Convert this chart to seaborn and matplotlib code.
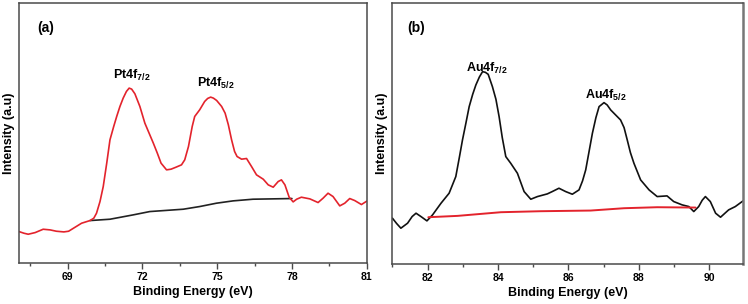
import numpy as np
import pandas as pd
import seaborn as sns
import matplotlib
matplotlib.use("Agg")
from matplotlib import pyplot as plt
from matplotlib.ticker import MultipleLocator

# Pt 4f spectrum (panel a), intensity in arbitrary units
pt_energy = [67.05, 67.25, 67.42, 67.70, 68.02, 68.30, 68.55, 68.85, 69.04, 69.30,
             69.56, 69.90, 70.05, 70.16, 70.30, 70.43, 70.57, 70.70, 70.85, 70.97,
             71.10, 71.23, 71.36, 71.47, 71.57, 71.70, 71.90, 72.10, 72.27, 72.44,
             72.60, 72.75, 72.97, 73.15, 73.35, 73.57, 73.70, 73.85, 74.00, 74.10,
             74.30, 74.50, 74.62, 74.74, 74.85, 74.98, 75.18, 75.32, 75.45, 75.58,
             75.70, 75.80, 75.98, 76.18, 76.38, 76.58, 76.85, 77.05, 77.25, 77.45,
             77.58, 77.72, 77.89, 78.05, 78.19, 78.38, 78.72, 79.05, 79.25, 79.45,
             79.65, 79.92, 80.12, 80.32, 80.52, 80.79, 81.0]
pt_counts = [95, 90, 87, 92, 102, 100, 96, 94, 96, 108,
             120, 128, 135, 150, 185, 230, 300, 370, 410, 440,
             470, 495, 515, 525, 522, 508, 470, 420, 390, 360,
             330, 300, 280, 282, 288, 295, 310, 350, 410, 440,
             460, 485, 494, 498, 495, 488, 470, 450, 415, 370,
             335, 320, 312, 314, 290, 265, 252, 235, 228, 245,
             250, 235, 198, 184, 192, 198, 193, 182, 195, 210,
             200, 172, 180, 194, 188, 176, 186]
pt_bg_energy = [69.90, 70.70, 71.63, 72.30, 73.64, 74.30, 74.97, 75.64, 76.44, 78.0]
pt_bg_counts = [128, 132, 145, 155, 162, 170, 180, 187, 192, 194]

# Au 4f spectrum (panel b)
au_energy = [81.0, 81.12, 81.24, 81.43, 81.56, 81.67, 81.81, 81.98, 82.14, 82.38,
             82.61, 82.80, 82.90, 82.99, 83.09, 83.18, 83.28, 83.37, 83.47, 83.56,
             83.64, 83.72, 83.84, 83.94, 84.03, 84.12, 84.22, 84.36, 84.55, 84.74,
             84.93, 85.12, 85.40, 85.54, 85.73, 85.92, 86.11, 86.30, 86.40, 86.49,
             86.58, 86.68, 86.78, 86.87, 87.01, 87.10, 87.20, 87.48, 87.58, 87.67,
             87.76, 87.86, 88.05, 88.29, 88.52, 88.80, 88.99, 89.23, 89.42, 89.56,
             89.70, 89.80, 89.89, 90.03, 90.18, 90.32, 90.55, 90.74, 90.96]
au_counts = [138, 122, 108, 123, 143, 153, 143, 130, 148, 183,
             213, 263, 320, 373, 425, 473, 510, 538, 562, 578,
             576, 570, 533, 495, 443, 380, 323, 303, 273, 218,
             195, 203, 211, 218, 228, 218, 210, 223, 250, 283,
             335, 393, 440, 473, 485, 478, 463, 433, 410, 373,
             335, 303, 253, 223, 203, 205, 188, 178, 173, 158,
             173, 192, 203, 188, 153, 141, 163, 173, 190]
au_bg_energy = [82.02, 82.85, 84.08, 85.21, 86.63, 87.58, 88.52, 89.61]
au_bg_counts = [141, 145, 156, 159, 161, 168, 171, 170]

sns.set_style("white")
plt.rcParams["font.family"] = ["Liberation Sans", "DejaVu Sans"]
plt.rcParams["font.weight"] = "bold"
plt.rcParams["text.color"] = "black"
plt.rcParams["axes.labelcolor"] = "black"
plt.rcParams["xtick.color"] = "black"
plt.rcParams["mathtext.fontset"] = "custom"
plt.rcParams["mathtext.bf"] = "Liberation Sans:bold"
plt.rcParams["mathtext.rm"] = "Liberation Sans:bold"

red = "#e3232c"
spine_col = "#4a4a4a"

fig = plt.figure(figsize=(7.48, 3.04), dpi=100)
ax1 = fig.add_axes([0.0254, 0.134, 0.4648, 0.856])
ax2 = fig.add_axes([0.5237, 0.131, 0.4697, 0.859])

df_pt = pd.DataFrame({"energy": pt_energy, "counts": pt_counts})
df_pt_bg = pd.DataFrame({"energy": pt_bg_energy, "counts": pt_bg_counts})
df_au = pd.DataFrame({"energy": au_energy, "counts": au_counts})
df_au_bg = pd.DataFrame({"energy": au_bg_energy, "counts": au_bg_counts})

line_kw = dict(sort=False, solid_joinstyle="round")
sns.lineplot(data=df_pt_bg, x="energy", y="counts", ax=ax1, color="#222222", lw=1.2, **line_kw)
sns.lineplot(data=df_pt, x="energy", y="counts", ax=ax1, color=red, lw=1.2, **line_kw)
sns.lineplot(data=df_au, x="energy", y="counts", ax=ax2, color="#111111", lw=1.2, **line_kw)
sns.lineplot(data=df_au_bg, x="energy", y="counts", ax=ax2, color=red, lw=1.4, **line_kw)

ax1.set_xlim(67.05, 81.0)
ax1.set_ylim(0, 780)
ax1.xaxis.set_major_locator(MultipleLocator(3))
ax1.xaxis.set_minor_locator(MultipleLocator(1.5))
ax2.set_xlim(80.98, 90.96)
ax2.set_ylim(0, 784)
ax2.xaxis.set_major_locator(MultipleLocator(2))
ax2.xaxis.set_minor_locator(MultipleLocator(1))

for ax in (ax1, ax2):
    ax.set_yticks([])
    ax.set_xlabel("Binding Energy (eV)", fontsize=9, fontweight="bold", labelpad=3)
    ax.set_ylabel("Intensity (a.u)", fontsize=9, fontweight="bold", labelpad=3)
    ax.tick_params(axis="x", which="major", direction="out", length=4, width=1,
                   color=spine_col, labelcolor="black", labelsize=7.5, pad=2, bottom=True)
    ax.tick_params(axis="x", which="minor", direction="out", length=2.5, width=1,
                   color=spine_col, bottom=True)
    for lab in ax.get_xticklabels():
        lab.set_fontweight("bold")
    for s in ax.spines.values():
        s.set_color(spine_col)
        s.set_linewidth(1.1)
ax2.spines["right"].set_linewidth(1.8)
ax2.spines["right"].set_color("#777777")

ax1.text(0.052, 0.904, "(a)", transform=ax1.transAxes, fontsize=10, fontweight="bold", va="center")
ax2.text(0.044, 0.904, "(b)", transform=ax2.transAxes, fontsize=10, fontweight="bold", va="center")

ax1.text(71.59, 562, r"$\mathbf{Pt4f_{7/2}}$", fontsize=9, ha="center", va="center")
ax1.text(74.94, 538, r"$\mathbf{Pt4f_{5/2}}$", fontsize=9, ha="center", va="center")
ax2.text(83.67, 588, r"$\mathbf{Au4f_{7/2}}$", fontsize=9, ha="center", va="center")
ax2.text(87.05, 508, r"$\mathbf{Au4f_{5/2}}$", fontsize=9, ha="center", va="center")

fig.savefig("out.png", dpi=100)
